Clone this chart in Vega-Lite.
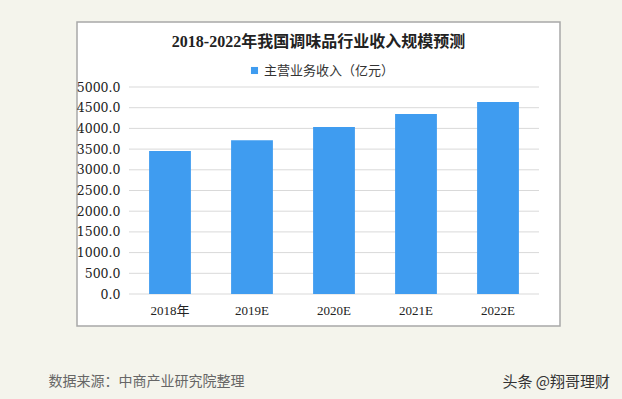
{
  "$schema": "https://vega.github.io/schema/vega-lite/v6.json",
  "width": 483,
  "height": 304,
  "autosize": {"type": "none"},
  "padding": {"left": 77, "top": 22, "right": 62, "bottom": 73},
  "background": "#f4f4ec",
  "title": {
    "text": "2018-2022年我国调味品行业收入规模预测",
    "orient": "top",
    "anchor": "middle",
    "frame": "group",
    "offset": -28,
    "fontSize": 16,
    "fontWeight": "bold",
    "font": "Liberation Serif, Noto Sans CJK SC",
    "color": "#222222"
  },
  "config": {
    "view": {"fill": "#ffffff", "stroke": "#a8a8a8", "strokeWidth": 1.5},
    "font": "Liberation Serif, Noto Sans CJK SC"
  },
  "datasets": {
    "bars": [
      {"year": "2018年", "value": 3454, "series": "主营业务收入（亿元）"},
      {"year": "2019E", "value": 3713, "series": "主营业务收入（亿元）"},
      {"year": "2020E", "value": 4034, "series": "主营业务收入（亿元）"},
      {"year": "2021E", "value": 4348, "series": "主营业务收入（亿元）"},
      {"year": "2022E", "value": 4638, "series": "主营业务收入（亿元）"}
    ],
    "grid": [
      {"v": 0}, {"v": 500}, {"v": 1000}, {"v": 1500}, {"v": 2000}, {"v": 2500},
      {"v": 3000}, {"v": 3500}, {"v": 4000}, {"v": 4500}, {"v": 5000}
    ]
  },
  "layer": [
    {
      "data": {"name": "grid"},
      "mark": {"type": "rule", "color": "#d9d9d9", "strokeWidth": 1},
      "encoding": {
        "x": {"datum": 0, "type": "quantitative", "scale": {"domain": [0, 1], "range": [52, 462]}, "axis": null},
        "x2": {"datum": 1},
        "y": {
          "field": "v",
          "type": "quantitative",
          "scale": {"domain": [0, 5000], "range": [272, 65]},
          "axis": {
            "offset": -52,
            "values": [0, 500, 1000, 1500, 2000, 2500, 3000, 3500, 4000, 4500, 5000],
            "format": ".1f",
            "grid": false,
            "domain": false,
            "ticks": false,
            "labelFont": "DejaVu Serif",
            "labelFontSize": 12.5,
            "labelColor": "#222222",
            "labelPadding": 9,
            "title": "头条 @翔哥理财",
            "titleFont": "Noto Sans CJK SC",
            "titleFontSize": 15,
            "titleFontWeight": "normal",
            "titleColor": "#333333",
            "titleAngle": 0,
            "titleAlign": "left",
            "titleBaseline": "middle",
            "titleX": 373,
            "titleY": 359
          }
        }
      }
    },
    {
      "data": {"name": "bars"},
      "mark": {"type": "bar"},
      "encoding": {
        "x": {
          "field": "year",
          "type": "nominal",
          "sort": null,
          "scale": {"range": [52, 462], "paddingInner": 0.49, "paddingOuter": 0.245},
          "axis": {
            "offset": -32,
            "domain": false,
            "ticks": false,
            "labelAngle": 0,
            "labelFontSize": 13,
            "labelColor": "#222222",
            "labelPadding": 10,
            "title": "数据来源：中商产业研究院整理",
            "titleFont": "Noto Sans CJK SC",
            "titleFontSize": 14,
            "titleFontWeight": "normal",
            "titleColor": "#666666",
            "titleAlign": "left",
            "titleAnchor": "start",
            "titleBaseline": "middle",
            "titleX": -29,
            "titleY": 87
          }
        },
        "y": {
          "field": "value",
          "type": "quantitative",
          "scale": {"domain": [0, 5000], "range": [272, 65]},
          "axis": {
            "offset": -52,
            "values": [0, 500, 1000, 1500, 2000, 2500, 3000, 3500, 4000, 4500, 5000],
            "format": ".1f",
            "grid": false,
            "domain": false,
            "ticks": false,
            "labelFont": "DejaVu Serif",
            "labelFontSize": 12.5,
            "labelColor": "#222222",
            "labelPadding": 9,
            "title": "头条 @翔哥理财",
            "titleFont": "Noto Sans CJK SC",
            "titleFontSize": 15,
            "titleFontWeight": "normal",
            "titleColor": "#333333",
            "titleAngle": 0,
            "titleAlign": "left",
            "titleBaseline": "middle",
            "titleX": 373,
            "titleY": 359
          }
        },
        "color": {
          "field": "series",
          "type": "nominal",
          "scale": {"range": ["#3f9cf0"]},
          "legend": {
            "title": null,
            "orient": "none",
            "legendX": 171,
            "legendY": 42,
            "symbolType": "square",
            "symbolSize": 50,
            "labelFont": "Noto Sans CJK SC",
            "labelFontSize": 13,
            "labelColor": "#333333",
            "labelOffset": 3
          }
        }
      }
    }
  ],
  "resolve": {"scale": {"x": "independent"}}
}
